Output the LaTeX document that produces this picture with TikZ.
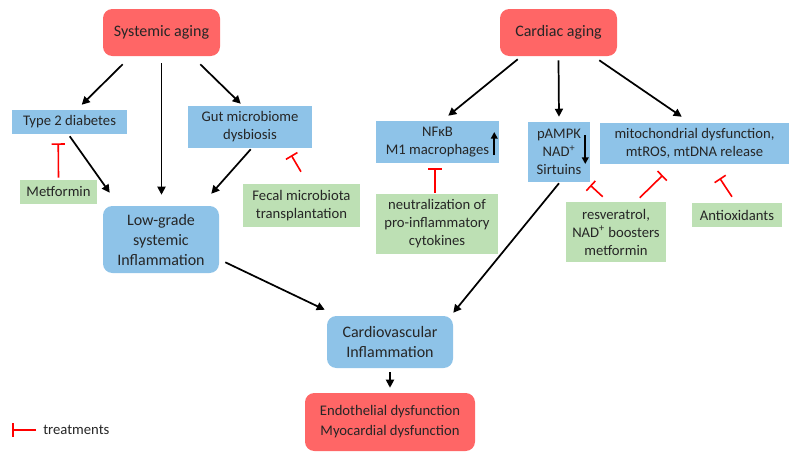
\documentclass[tikz,border=0pt]{standalone}
\usepackage{fontspec}
\setmainfont{Carlito}
\usetikzlibrary{calc,arrows.meta}

\definecolor{agered}{RGB}{255,102,102}
\definecolor{inflblue}{RGB}{142,195,232}
\definecolor{treatgreen}{RGB}{189,224,180}
\definecolor{inhibred}{RGB}{255,0,0}

\tikzset{
	box/.style={rectangle, inner sep=0pt, align=center, text=black!85, font=\fontsize{11}{13.5}\selectfont},
	redbox/.style={box, fill=agered, rounded corners=7pt},
	bluebox/.style={box, fill=inflblue},
	blueround/.style={box, fill=inflblue, rounded corners=7pt},
	greenbox/.style={box, fill=treatgreen},
	cause/.style={-{Triangle[length=6pt,width=6pt]}, line width=1.3pt, black},
	inhibit/.style={-{Bar[width=10pt,line width=1.2pt]}, line width=1.2pt, inhibred},
	levelarrow/.style={-{Triangle[length=5pt,width=5pt]}, line width=1.5pt, black}
}

\begin{document}
\begin{tikzpicture}[x=0.75pt,y=-0.75pt]
			%%%%% START %%%%%
			\useasboundingbox (0,0) rectangle (794,458);
			
			% aging sources
			\node[redbox, minimum width=87.75pt, minimum height=35.25pt, font=\fontsize{12}{15}\selectfont] (sys) at (161.5,32.5) {Systemic aging};
			\node[redbox, minimum width=87.75pt, minimum height=35.25pt, font=\fontsize{12}{15}\selectfont] (card) at (558.5,32.5) {Cardiac aging};
			
			% systemic branch
			\node[bluebox, minimum width=86.25pt, minimum height=18pt] (t2d) at (69.5,122) {Type 2 diabetes};
			\node[bluebox, minimum width=93pt, minimum height=31.5pt] (gut) at (250,127) {Gut microbiome\\dysbiosis};
			\node[greenbox, minimum width=57.75pt, minimum height=18pt] (metf) at (58.5,192) {Metformin};
			\node[greenbox, minimum width=87.75pt, minimum height=32.25pt] (fecal) at (301.5,205.5) {Fecal microbiota\\transplantation};
			\node[blueround, minimum width=87pt, minimum height=50.25pt, font=\fontsize{12}{15}\selectfont] (lowgr) at (161,239.5) {Low-grade\\systemic\\Inflammation};
			
			% cardiac branch
			\node[bluebox, minimum width=92.25pt, minimum height=31.5pt] (nfkb) at (437.5,142) {NFκB\\M1 macrophages\hspace{4pt}};
			\node[bluebox, minimum width=46.5pt, minimum height=45pt] (ampk) at (559,152) {pAMPK\hspace{3pt}\\NAD\textsuperscript{+}\\Sirtuins};
			\node[bluebox, minimum width=141.75pt, minimum height=30.75pt] (mito) at (694.5,143.5) {mitochondrial dysfunction,\\mtROS, mtDNA release};
			\node[greenbox, minimum width=91.5pt, minimum height=45pt] (neut) at (437,224) {neutralization of\\pro-inflammatory\\cytokines};
			\node[greenbox, minimum width=75pt, minimum height=45pt] (resv) at (616,232) {resveratrol,\\NAD\textsuperscript{+} boosters\\metformin};
			\node[greenbox, minimum width=67.5pt, minimum height=18pt] (antiox) at (737,215) {Antioxidants};
			
			% outcomes
			\node[blueround, minimum width=94.5pt, minimum height=39pt, font=\fontsize{12}{15}\selectfont] (cvi) at (390,342) {Cardiovascular\\Inflammation};
			\node[redbox, minimum width=127.5pt, minimum height=43.5pt, font=\fontsize{11}{15}\selectfont] (endo) at (390,422) {Endothelial dysfunction\\Myocardial dysfunction};
			
			% up / down inside boxes
			\draw[levelarrow] ($(nfkb.east)+(-5,13)$) -- ($(nfkb.east)+(-5,-10)$);
			\draw[levelarrow] ($(ampk.east)+(-5,-17)$) -- ($(ampk.east)+(-5,12)$);
			
			% causal arrows
			\draw[cause] ($(sys.south west)+(20,8)$) -- ($(t2d.north west)+(70,-5)$);
			\draw[cause] ($(sys.south)+(0,7)$) -- ($(lowgr.north)+(0.5,-11)$);
			\draw[cause] ($(sys.south east)+(-20,8)$) -- ($(gut.north west)+(53,-2)$);
			\draw[cause] ($(t2d.south west)+(58,2)$) -- ($(lowgr.north west)+(7,-13)$);
			\draw[cause] ($(gut.south west)+(63,1)$) -- ($(lowgr.north east)+(-8,-12)$);
			\draw[cause] ($(card.south west)+(18,3)$) -- ($(nfkb.north east)+(-51,-5)$);
			\draw[cause] ($(card.south)+(0,4)$) -- ($(ampk.north)+(0,-5)$);
			\draw[cause] ($(card.south east)+(-18,4)$) -- ($(mito.north west)+(82,-6)$);
			\draw[cause] ($(ampk.south)+(0,1)$) -- ($(cvi.north east)+(0,-3)$);
			\draw[cause] ($(lowgr.south east)+(6,-11)$) -- ($(cvi.north west)+(-2,-6)$);
			\draw[cause] ($(cvi.south)+(0,4)$) -- ($(endo.north)+(0,-5)$);
			
			% treatments
			\draw[inhibit] ($(metf.north)+(0,-2)$) -- ($(t2d.south west)+(46.5,9)$);
			\draw[inhibit] ($(fecal.north)+(-0.5,-12)$) -- ($(gut.south east)+(-21,7)$);
			\draw[inhibit] ($(neut.north)+(-2,-1)$) -- ($(nfkb.south)+(-2.5,5)$);
			\draw[inhibit] ($(resv.north west)+(37,-5)$) -- ($(ampk.south east)+(0,3)$);
			\draw[inhibit] ($(resv.north west)+(74,-4)$) -- ($(mito.south west)+(63,11)$);
			\draw[inhibit] ($(antiox.north)+(-5,-6)$) -- ($(mito.south west)+(120,14)$);
			
			% legend
			\coordinate (legstart) at (36,430);
			\coordinate (legend) at (12,430);
			\draw[inhibit] (legstart) -- (legend);
			\node[anchor=west, text=black!85, font=\fontsize{11}{13.5}\selectfont, inner sep=0pt] (legtext) at (43,430) {treatments};
			%%%%% END %%%%%
\end{tikzpicture}
\end{document}
